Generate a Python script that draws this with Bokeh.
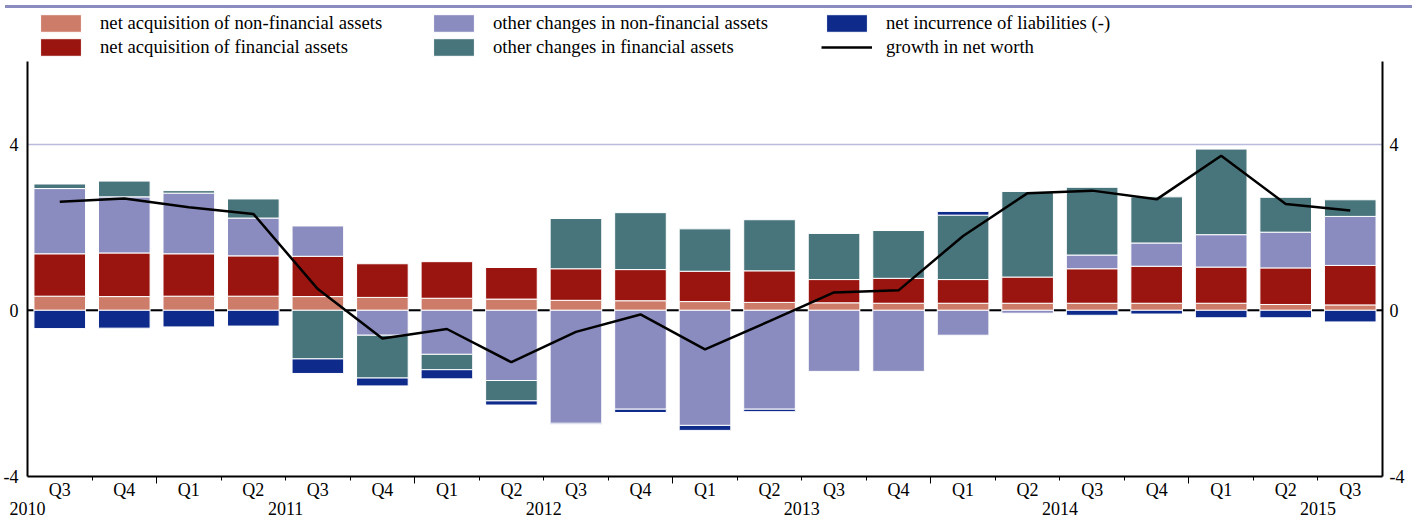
from bokeh.plotting import figure
from bokeh.models import (LinearAxis, FixedTicker, Grid, Span, Legend, LegendItem,
                          Range1d, Div, ColumnDataSource)
from bokeh.layouts import column
from bokeh.embed import file_html
from bokeh.resources import INLINE

# ---------------- data ----------------
years = [2010, 2010,
         2011, 2011, 2011, 2011,
         2012, 2012, 2012, 2012,
         2013, 2013, 2013, 2013,
         2014, 2014, 2014, 2014,
         2015, 2015, 2015]
quarters = ["Q3", "Q4",
            "Q1", "Q2", "Q3", "Q4",
            "Q1", "Q2", "Q3", "Q4",
            "Q1", "Q2", "Q3", "Q4",
            "Q1", "Q2", "Q3", "Q4",
            "Q1", "Q2", "Q3"]

net_acq_nonfin = [0.34, 0.33, 0.34, 0.34, 0.33, 0.31, 0.29, 0.27, 0.24, 0.23, 0.21,
                  0.19, 0.18, 0.17, 0.17, 0.17, 0.17, 0.17, 0.17, 0.14, 0.13]
net_acq_fin = [1.02, 1.05, 1.02, 0.97, 0.97, 0.81, 0.88, 0.76, 0.76, 0.75, 0.73,
               0.76, 0.56, 0.60, 0.57, 0.63, 0.83, 0.89, 0.87, 0.88, 0.95]
other_nonfin = [1.57, 1.35, 1.46, 0.91, 0.73, -0.60, -1.06, -1.69, -2.72, -2.38, -2.77,
                -2.38, -1.47, -1.47, -0.60, -0.07, 0.33, 0.56, 0.78, 0.86, 1.18]
other_fin = [0.11, 0.38, 0.06, 0.46, -1.17, -1.03, -0.37, -0.49, 1.21, 1.37, 1.02,
             1.23, 1.11, 1.15, 1.55, 2.06, 1.63, 1.11, 2.06, 0.84, 0.40]
net_liab = [-0.44, -0.43, -0.40, -0.38, -0.35, -0.19, -0.22, -0.10, -0.03, -0.08, -0.12,
            -0.06, 0.0, 0.0, 0.09, 0.0, -0.12, -0.09, -0.18, -0.18, -0.28]
net_worth = [2.61, 2.69, 2.48, 2.32, 0.51, -0.68, -0.45, -1.25, -0.52, -0.10, -0.94,
             -0.26, 0.43, 0.48, 1.79, 2.82, 2.88, 2.67, 3.72, 2.56, 2.40]

series_labels = ["net acquisition of non-financial assets",
                 "net acquisition of financial assets",
                 "other changes in non-financial assets",
                 "other changes in financial assets",
                 "net incurrence of liabilities (-)"]
line_label = "growth in net worth"
y_ticks = [-4, 0, 4]
y_min, y_max = -4, 6

# ---------------- layout / styles ----------------
colors = ["#cd7c69", "#9b1510", "#8a8cbf", "#48747b", "#0e2b8b"]
FONT = "Liberation Serif"
FS = "18px"
LFS = "18.7px"
W, H = 1407, 506
BORDER_BOTTOM = 43
TOP_PAD_PX = 47.5            # legend area above the value range, in pixels
frame_h = H - BORDER_BOTTOM
px_per_unit = (frame_h - TOP_PAD_PX) / (y_max - y_min)
y_top = y_max + TOP_PAD_PX / px_per_unit

n = len(quarters)
xs = list(range(n))
x_lo, x_hi = -0.5, n - 0.5

quarter_bounds = [i - 0.5 for i in range(1, n)]
year_bounds = [i - 0.5 for i in range(1, n) if years[i] != years[i - 1]]
year_centres = {}
for i, (y, q) in enumerate(zip(years, quarters)):
    if y not in year_centres:
        q1_idx = i - (int(q[1]) - 1)
        c = q1_idx + 1.5
        year_centres[y] = min(max(c, x_lo), x_hi)

p = figure(width=W, height=H,
           x_range=Range1d(x_lo, x_hi), y_range=Range1d(y_min, y_top),
           x_axis_location=None, y_axis_location=None,
           toolbar_location=None, output_backend="svg",
           min_border_left=25, min_border_right=20,
           min_border_top=0, min_border_bottom=BORDER_BOTTOM)
p.outline_line_color = None
p.background_fill_color = "white"
p.border_fill_color = "white"
p.center = [r for r in p.center if not isinstance(r, Grid)]

grid = Grid(dimension=1, ticker=FixedTicker(ticks=y_ticks),
            grid_line_color="#b9badc", grid_line_width=1.5)
p.add_layout(grid)

p.add_layout(Span(location=0, dimension="width", line_color="black",
                  line_width=2, level="underlay"))

# stacked bars
pos = [0.0] * n
neg = [0.0] * n
renderers = []
for vals, col, lab in zip([net_acq_nonfin, net_acq_fin, other_nonfin, other_fin, net_liab],
                          colors, series_labels):
    bx, bb, bt = [], [], []
    for i, v in enumerate(vals):
        if v >= 0:
            b, t = pos[i], pos[i] + v
            pos[i] = t
        else:
            t, b = neg[i], neg[i] + v
            neg[i] = b
        if v != 0:
            bx.append(xs[i]); bb.append(b); bt.append(t)
    src = ColumnDataSource(dict(x=bx, bottom=bb, top=bt))
    r = p.vbar(x="x", bottom="bottom", top="top", width=0.8, source=src,
               fill_color=col, line_color="white", line_width=1)
    renderers.append((lab, r))

lr = p.line(xs, net_worth, line_color="black", line_width=2.5)
renderers.append((line_label, lr))

# axes
ax1 = LinearAxis(ticker=FixedTicker(ticks=year_bounds, minor_ticks=quarter_bounds),
                 axis_line_color="black", axis_line_width=2,
                 major_tick_line_color="black", major_tick_line_width=1,
                 major_tick_out=7, major_tick_in=0,
                 minor_tick_line_color="black", minor_tick_line_width=1,
                 minor_tick_out=4, minor_tick_in=0,
                 major_label_overrides={b: "" for b in year_bounds},
                 major_label_text_font_size="0px", major_label_standoff=0)
p.add_layout(ax1, "below")

ax2 = LinearAxis(ticker=FixedTicker(ticks=xs, minor_ticks=[]),
                 axis_line_color=None, major_tick_line_color=None,
                 minor_tick_line_color=None, major_tick_out=0, major_tick_in=0,
                 minor_tick_out=0, minor_tick_in=0,
                 major_label_overrides={i: q for i, q in zip(xs, quarters)},
                 major_label_text_font=FONT, major_label_text_font_size=FS,
                 major_label_text_color="black", major_label_standoff=-4)
p.add_layout(ax2, "below")

yc_ticks = list(year_centres.values())
ax3 = LinearAxis(ticker=FixedTicker(ticks=yc_ticks, minor_ticks=[]),
                 axis_line_color=None, major_tick_line_color=None,
                 minor_tick_line_color=None, major_tick_out=0, major_tick_in=0,
                 minor_tick_out=0, minor_tick_in=0,
                 major_label_overrides={c: str(y) for y, c in year_centres.items()},
                 major_label_text_font=FONT, major_label_text_font_size=FS,
                 major_label_text_color="black", major_label_standoff=-1)
p.add_layout(ax3, "below")

for side, standoff in (("left", 9), ("right", 7)):
    ay = LinearAxis(ticker=FixedTicker(ticks=y_ticks, minor_ticks=[]),
                    bounds=(y_min, y_max),
                    axis_line_color="black", axis_line_width=2,
                    major_tick_line_color="black", major_tick_out=0, major_tick_in=0,
                    minor_tick_line_color=None,
                    major_label_overrides={t: str(t) for t in y_ticks},
                    major_label_text_font=FONT, major_label_text_font_size=FS,
                    major_label_text_color="black", major_label_standoff=standoff)
    p.add_layout(ay, side)

legend = Legend(items=[LegendItem(label=l, renderers=[r]) for l, r in renderers],
                ncols=3, location=(8, frame_h - 45),
                glyph_width=51, glyph_height=22, label_standoff=14,
                label_width=326, spacing=2, padding=0, margin=0,
                border_line_color=None, background_fill_alpha=0,
                label_text_font=FONT, label_text_font_size=LFS,
                label_text_color="black")
p.add_layout(legend)

top_bar = Div(text="", width=W, height=3,
              styles={"background-color": "#8a8cbf"})

layout = column(top_bar, p, spacing=0)
open("out.html", "w").write(file_html(layout, INLINE))
